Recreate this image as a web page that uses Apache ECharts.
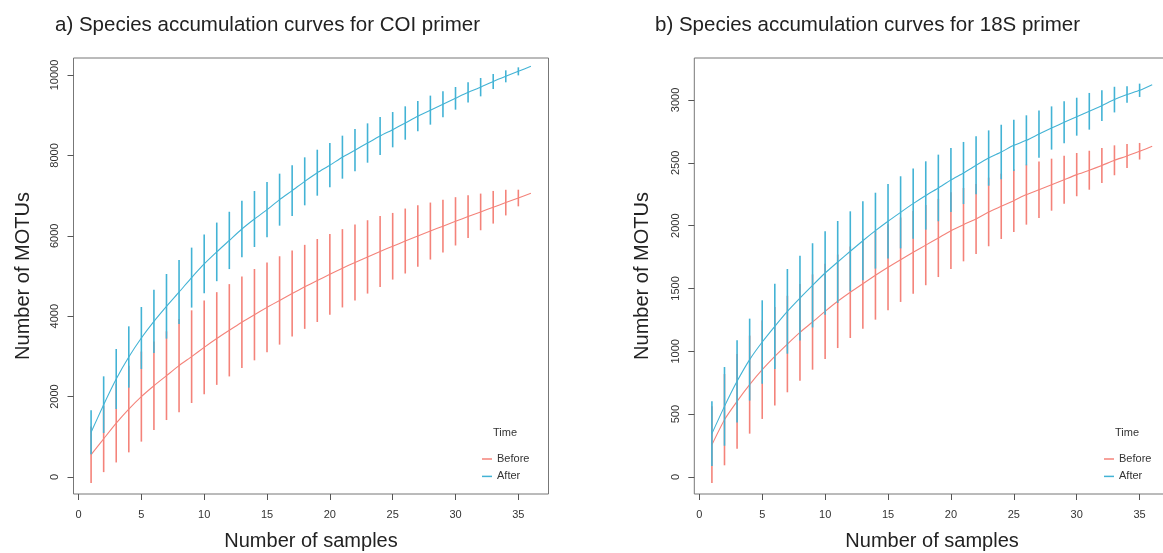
<!DOCTYPE html>
<html><head><meta charset="utf-8">
<script src="https://cdn.jsdelivr.net/npm/echarts@6/dist/echarts.min.js"></script>
<style>html,body{margin:0;padding:0;background:#fff}#c{width:1163px;height:553px}</style>
</head><body><div id="c"></div>
<script>
// ---- data ----
const samples = [1,2,3,4,5,6,7,8,9,10,11,12,13,14,15,16,17,18,19,20,21,22,23,24,25,26,27,28,29,30,31,32,33,34,35,36];
const seriesNames = ['Before', 'After'];
const titleA = 'a) Species accumulation curves for COI primer';
const titleB = 'b) Species accumulation curves for 18S primer';
const xName = 'Number of samples';
const yName = 'Number of MOTUs';
const legendTitle = 'Time';

// COI primer
const coiBeforeMean = [555, 950, 1340, 1690, 2000, 2270, 2520, 2770, 2993, 3225, 3445, 3650, 3850, 4038, 4220, 4392, 4565, 4730, 4888, 5042, 5192, 5338, 5475, 5612, 5740, 5870, 5995, 6118, 6240, 6360, 6478, 6594, 6710, 6826, 6940, 7058];
const coiBeforeSd   = [704, 829, 978, 1077, 1120, 1102, 1103, 1161, 1153, 1165, 1153, 1148, 1140, 1136, 1115, 1099, 1070, 1045, 1032, 1003, 974, 945, 912, 883, 829, 808, 767, 709, 655, 601, 531, 456, 406, 319, 207, 0];
const coiAfterMean  = [1111, 1799, 2438, 2985, 3458, 3872, 4246, 4600, 4960, 5300, 5600, 5885, 6169, 6418, 6650, 6899, 7123, 7355, 7570, 7757, 7956, 8130, 8308, 8483, 8640, 8806, 8976, 9126, 9270, 9420, 9568, 9697, 9838, 9967, 10091, 10215];
const coiAfterSd    = [547, 705, 746, 763, 771, 788, 804, 796, 746, 730, 729, 713, 705, 696, 688, 647, 630, 597, 572, 551, 535, 527, 489, 473, 439, 415, 377, 361, 323, 282, 249, 228, 187, 149, 100, 0];

// 18S primer
const s18BeforeMean = [257, 456, 602, 735, 854, 960, 1058, 1151, 1233, 1318, 1398, 1470, 1538, 1605, 1669, 1729, 1788, 1845, 1902, 1960, 2008, 2053, 2109, 2154, 2199, 2247, 2286, 2326, 2366, 2406, 2441, 2479, 2520, 2554, 2592, 2631];
const s18BeforeSd   = [305, 363, 377, 390, 392, 392, 384, 385, 379, 379, 372, 364, 358, 353, 343, 336, 329, 319, 311, 305, 292, 279, 273, 260, 249, 239, 225, 207, 191, 172, 155, 139, 119, 95, 66, 0];
const s18AfterMean  = [345, 562, 761, 934, 1074, 1199, 1318, 1424, 1525, 1623, 1711, 1796, 1880, 1960, 2035, 2106, 2175, 2240, 2300, 2363, 2419, 2480, 2538, 2586, 2639, 2679, 2729, 2777, 2822, 2867, 2910, 2955, 3003, 3043, 3077, 3122];
const s18AfterSd    = [257, 313, 327, 326, 332, 339, 337, 337, 335, 332, 326, 318, 314, 302, 296, 287, 279, 272, 265, 255, 247, 231, 220, 217, 204, 199, 188, 172, 167, 151, 146, 122, 102, 66, 53, 0];

// tick labels
const xTicks = [0, 5, 10, 15, 20, 25, 30, 35];
const coiYTicks = [0, 2000, 4000, 6000, 8000, 10000];
const s18YTicks = [0, 500, 1000, 1500, 2000, 2500, 3000];

// ---- chart ----
const RED = '#F4837A', BLUE = '#43B3D5';
const FONT = '"Liberation Sans", Arial, sans-serif';
const chart = echarts.init(document.getElementById('c'), null, {renderer: 'canvas'});

function barData(mean, sd) { return samples.map((s, i) => [s, mean[i] - sd[i], mean[i] + sd[i]]); }
function lineData(mean) { return samples.map((s, i) => [s, mean[i]]); }
function errSeries(name, gi, mean, sd, color, z) {
  return {
    type: 'custom', name: name, xAxisIndex: gi, yAxisIndex: gi, z: z, silent: true,
    data: barData(mean, sd), encode: {x: 0, y: [1, 2]},
    itemStyle: {color: color},
    renderItem: function (params, api) {
      const p1 = api.coord([api.value(0), api.value(1)]);
      const p2 = api.coord([api.value(0), api.value(2)]);
      return {type: 'line', shape: {x1: p1[0], y1: p1[1], x2: p2[0], y2: p2[1]},
              style: {stroke: color, lineWidth: 1.6}};
    }
  };
}
function lineSeries(name, gi, mean, color, z) {
  return {type: 'line', name: name, xAxisIndex: gi, yAxisIndex: gi, z: z, data: lineData(mean),
          showSymbol: false, symbol: 'none', color: color, smooth: 0.2,
          lineStyle: {color: color, width: 1.1}, silent: true};
}
const plain = v => String(v);
function xAxis(gi) {
  return {type: 'value', gridIndex: gi, min: -0.4, max: 37.4, name: xName, nameLocation: 'middle', nameGap: 37,
    nameTextStyle: {fontSize: 20, color: '#222', fontFamily: FONT},
    axisLine: {show: false, onZero: false}, splitLine: {show: false},
    axisTick: {show: true, inside: false, customValues: xTicks, length: 6, lineStyle: {color: '#555'}},
    axisLabel: {customValues: xTicks, formatter: plain, fontSize: 11, color: '#333', margin: 15, fontFamily: FONT}};
}
function yAxis(gi, min, max, ticks, gap) {
  return {type: 'value', gridIndex: gi, min: min, max: max, name: yName, nameLocation: 'middle', nameGap: gap,
    nameTextStyle: {fontSize: 20, color: '#222', fontFamily: FONT},
    axisLine: {show: false, onZero: false}, splitLine: {show: false},
    axisTick: {show: true, inside: false, customValues: ticks, length: 6, lineStyle: {color: '#555'}},
    axisLabel: {customValues: ticks, formatter: plain, fontSize: 11, color: '#333', rotate: 90, margin: 13, fontFamily: FONT}};
}
function legend(left) {
  return {left: left, top: 453.5, orient: 'vertical', padding: 0, data: seriesNames, icon: 'rect', itemWidth: 10, itemHeight: 1.5,
    itemGap: 6.4, textStyle: {fontSize: 11, color: '#333', fontFamily: FONT}, selectedMode: false};
}

chart.setOption({
  animation: false,
  textStyle: {fontFamily: FONT},
  title: [
    {text: titleA, left: 50, top: 10, textStyle: {fontSize: 20.5, fontWeight: 'normal', color: '#222', fontFamily: FONT}},
    {text: titleB, left: 650, top: 10, textStyle: {fontSize: 20.5, fontWeight: 'normal', color: '#222', fontFamily: FONT}}
  ],
  grid: [
    {left: 73.5, top: 58, width: 475, height: 436, outerBoundsMode: 'none', containLabel: false, show: true, borderColor: '#777', borderWidth: 1, backgroundColor: 'transparent'},
    {left: 694.3, top: 58, width: 475.5, height: 436, outerBoundsMode: 'none', containLabel: false, show: true, borderColor: '#777', borderWidth: 1, backgroundColor: 'transparent'}
  ],
  xAxis: [xAxis(0), xAxis(1)],
  yAxis: [yAxis(0, -423, 10423, coiYTicks, 40), yAxis(1, -135.3, 3334, s18YTicks, 42)],
  legend: [legend(482), legend(1104)],
  graphic: [
    {type: 'text', left: 493, top: 427, style: {text: legendTitle, fontSize: 11, fill: '#333', fontFamily: FONT}},
    {type: 'text', left: 1115, top: 427, style: {text: legendTitle, fontSize: 11, fill: '#333', fontFamily: FONT}}
  ],
  series: [
    lineSeries('Before', 0, coiBeforeMean, RED, 3),
    lineSeries('After', 0, coiAfterMean, BLUE, 5),
    lineSeries('Before', 1, s18BeforeMean, RED, 3),
    lineSeries('After', 1, s18AfterMean, BLUE, 5),
    errSeries('Before', 0, coiBeforeMean, coiBeforeSd, RED, 2),
    errSeries('After', 0, coiAfterMean, coiAfterSd, BLUE, 4),
    errSeries('Before', 1, s18BeforeMean, s18BeforeSd, RED, 2),
    errSeries('After', 1, s18AfterMean, s18AfterSd, BLUE, 4)
  ]
});
</script></body></html>
